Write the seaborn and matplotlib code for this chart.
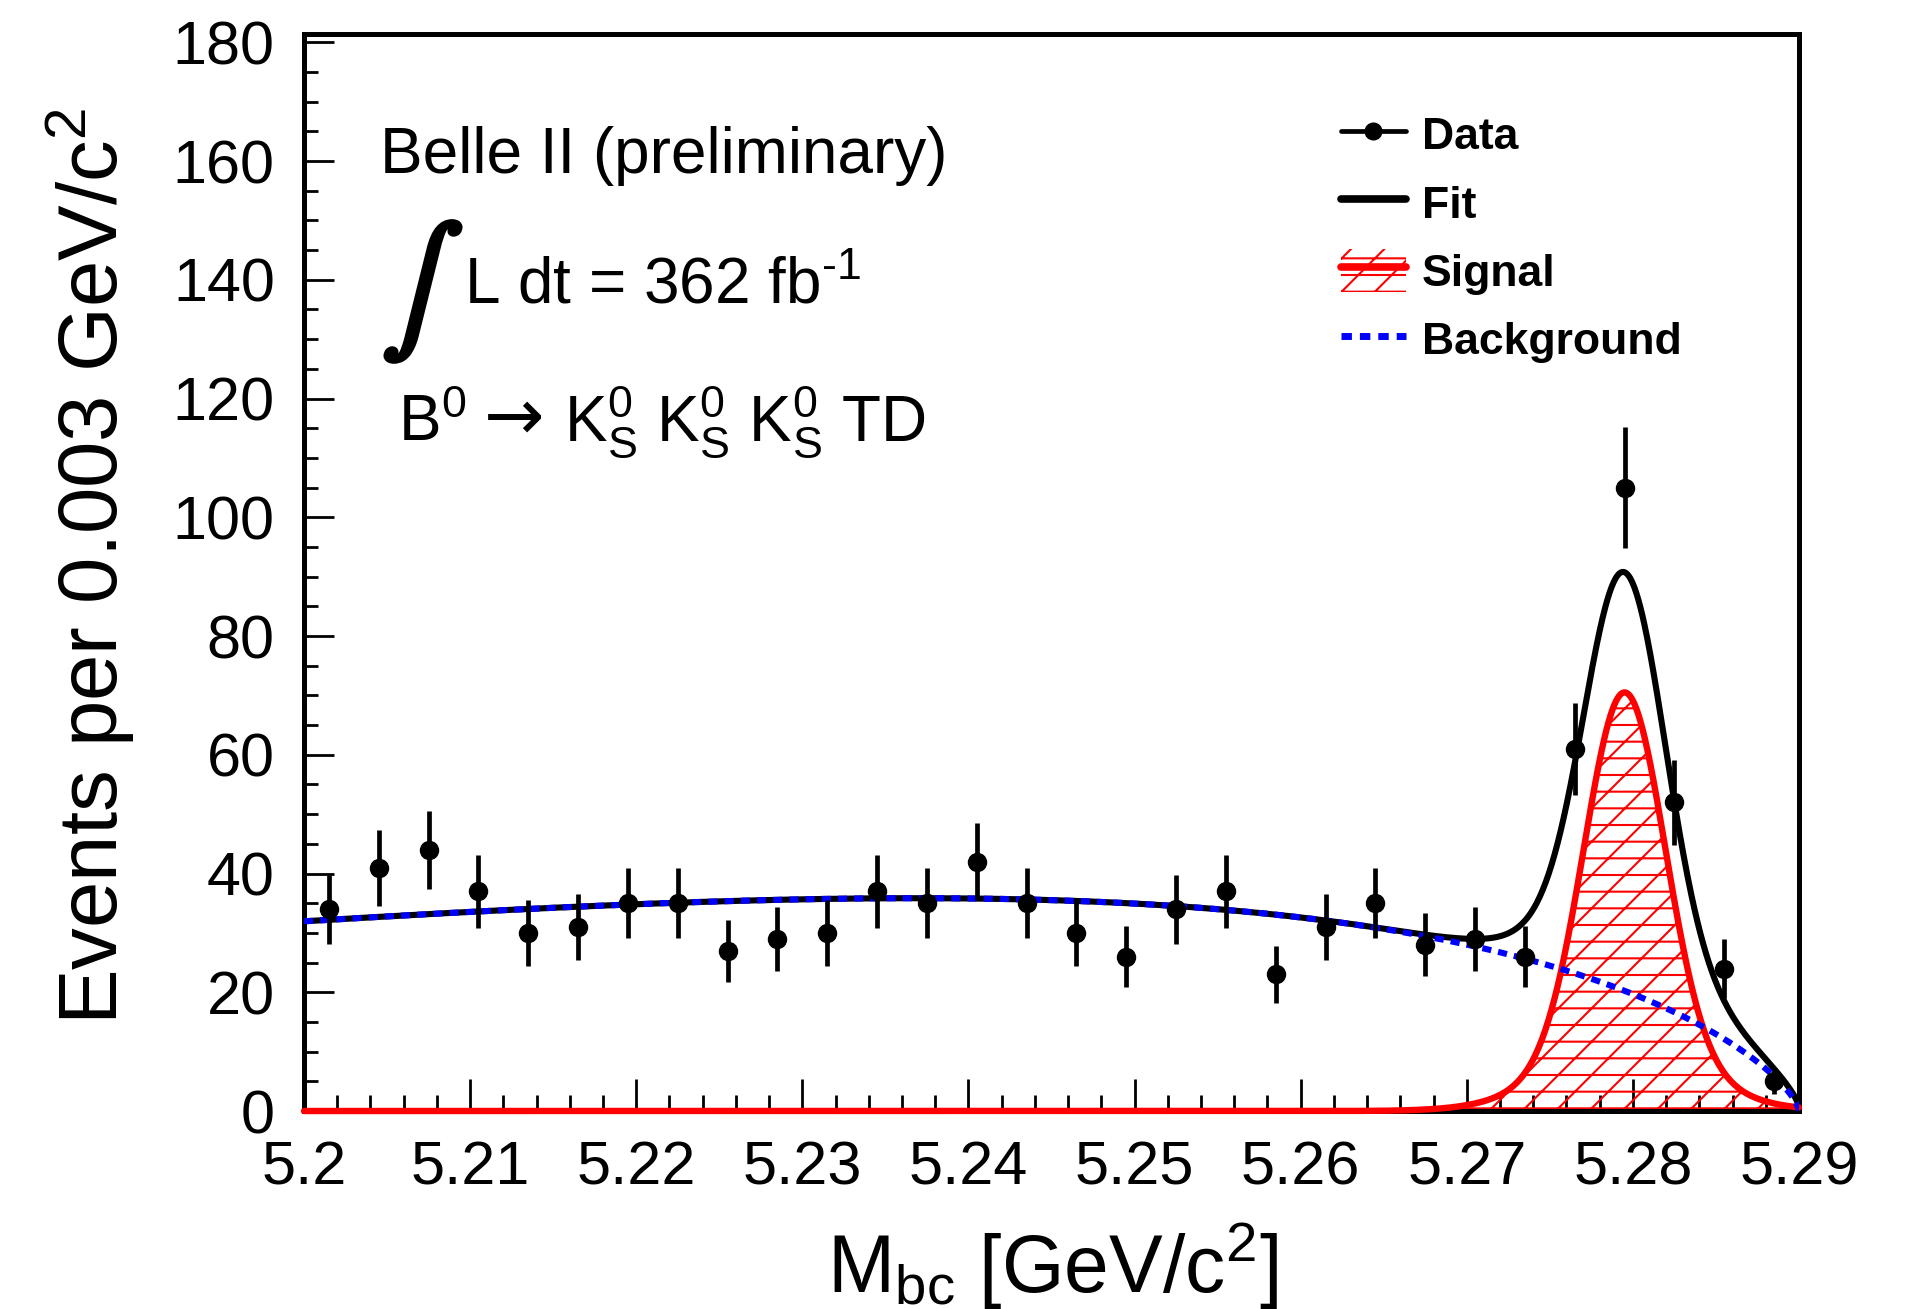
import numpy as np
import matplotlib
matplotlib.use("Agg")
import matplotlib.pyplot as plt
import matplotlib.patheffects as pe
import seaborn as sns
from matplotlib.lines import Line2D
from matplotlib.patches import Patch
from matplotlib.legend_handler import HandlerTuple
from matplotlib.ticker import MultipleLocator

# ---------------- data ----------------
bin_centers = [5.2015, 5.2045, 5.2075, 5.2105, 5.2135, 5.2165, 5.2195, 5.2225,
               5.2255, 5.2285, 5.2315, 5.2345, 5.2375, 5.2405, 5.2435, 5.2465,
               5.2495, 5.2525, 5.2555, 5.2585, 5.2615, 5.2645, 5.2675, 5.2705,
               5.2735, 5.2765, 5.2795, 5.2825, 5.2855, 5.2885]
counts = [34, 41, 44, 37, 30, 31, 35, 35, 27, 29, 30, 37, 35, 42, 35, 30,
          26, 34, 37, 23, 31, 35, 28, 29, 26, 61, 105, 52, 24, 5]
errors = [5.8, 6.4, 6.6, 6.1, 5.5, 5.6, 5.9, 5.9, 5.2, 5.4, 5.5, 6.1, 5.9, 6.5,
          5.9, 5.5, 5.1, 5.8, 6.1, 4.8, 5.6, 5.9, 5.3, 5.4, 5.1, 7.8, 10.2, 7.2,
          4.9, 2.2]

x_ticks = [5.20, 5.21, 5.22, 5.23, 5.24, 5.25, 5.26, 5.27, 5.28, 5.29]
x_tick_labels = ["5.2", "5.21", "5.22", "5.23", "5.24", "5.25", "5.26",
                 "5.27", "5.28", "5.29"]
y_ticks = [0, 20, 40, 60, 80, 100, 120, 140, 160, 180]
legend_labels = ["Data", "Fit", "Signal", "Background"]

# fit model parameters (background: ARGUS-like, signal: double Gaussian)
m0 = 5.29
bkg_norm = 211.0
bkg_power = 0.7
bkg_slope = -34.5
sig_mean = 5.2795
sig_core_amp = 61.5
sig_core_width = 0.0024
sig_tail_amp = 9.0
sig_tail_width = 0.0045

# ---------------- curves from the model ----------------
xg = np.linspace(5.2, 5.29, 1500)
u = np.clip(1.0 - (xg / m0) ** 2, 0.0, None)
bkg = bkg_norm * xg * u ** bkg_power * np.exp(bkg_slope * u)
sig = (sig_core_amp * np.exp(-0.5 * ((xg - sig_mean) / sig_core_width) ** 2)
       + sig_tail_amp * np.exp(-0.5 * ((xg - sig_mean) / sig_tail_width) ** 2))
fit = bkg + sig

# ---------------- style ----------------
sns.set_theme(style="ticks")
plt.rcParams.update({
    "font.family": ["Liberation Sans", "DejaVu Sans"],
    "mathtext.fontset": "custom",
    "mathtext.rm": "Liberation Sans",
    "mathtext.it": "Liberation Sans:italic",
    "mathtext.bf": "Liberation Sans:bold",
    "mathtext.sf": "Liberation Sans",
    "hatch.linewidth": 1.5,
    "hatch.color": "red",
    "axes.linewidth": 3.6,
    "axes.edgecolor": "black",
    "text.color": "black",
    "axes.labelcolor": "black",
    "xtick.color": "black",
    "ytick.color": "black",
})

W, H = 1921, 1309
fig = plt.figure(figsize=(W / 100, H / 100), dpi=100)
ax = fig.add_axes([304 / W, 1 - 1111 / H, (1799 - 304) / W, (1111 - 34) / H])

# signal hatched area
ax.fill_between(xg, 0, sig, facecolor="none", edgecolor="red", hatch="/-",
                linewidth=0, zorder=2)
sns.lineplot(x=xg, y=sig, ax=ax, color="red", lw=4.6, zorder=3.0,
             clip_on=False, legend=False)
sns.lineplot(x=xg, y=fit, ax=ax, color="black", lw=4.4, zorder=3.1,
             legend=False)
sns.lineplot(x=xg, y=bkg, ax=ax, color="#0000ff", lw=4.4, zorder=3.2,
             legend=False)
ax.lines[-1].set_linestyle((0, (1.5, 1.15)))
ax.lines[-1].set_dash_capstyle("butt")

ax.errorbar(bin_centers, counts, yerr=errors, fmt="o", color="black", ms=13,
            elinewidth=3.4, capsize=0, zorder=5)

ax.set_xlim(5.2, 5.29)
ax.set_ylim(0, 181.4)
ax.set_xticks(x_ticks)
ax.set_xticklabels(x_tick_labels)
ax.set_yticks(y_ticks)
ax.xaxis.set_minor_locator(MultipleLocator(0.002))
ax.yaxis.set_minor_locator(MultipleLocator(5))
ax.tick_params(which="both", direction="in", top=False, right=False,
               labelsize=44, pad=21, color="black", labelcolor="black")
ax.tick_params(axis="x", which="major", length=23, width=2)
ax.tick_params(axis="x", which="minor", length=11.5, width=2)
ax.tick_params(axis="y", which="major", length=21.5, width=2)
ax.tick_params(axis="y", which="minor", length=10, width=2)
for s in ax.spines.values():
    s.set_linewidth(3.6)
    s.set_color("black")
    s.set_zorder(2.5)

# axis labels
ax.set_xlabel(r"M$_{\mathrm{bc}}$ [GeV/c$^{2}$]", fontsize=58, color="black")
ax.xaxis.set_label_coords(1052 / W, 1 - 1292 / H, transform=fig.transFigure)
ax.xaxis.label.set_va("baseline")
ax.set_ylabel(r"Events per 0.003 GeV/c$^{2}$", fontsize=60, color="black")
ax.yaxis.set_label_coords(118 / W, 1 - 566 / H, transform=fig.transFigure)
ax.yaxis.label.set_va("baseline")

# annotations
fig.text(380 / W, 1 - 173 / H, "Belle II (preliminary)", fontsize=46,
         ha="left", va="baseline", color="black")
fig.text(382 / W, 1 - 323 / H, r"$\int$", fontsize=88, math_fontfamily="stix",
         ha="left", va="baseline", color="black",
         path_effects=[pe.withStroke(linewidth=3.5, foreground="black")])
fig.text(464 / W, 1 - 304 / H, r"L dt = 362 fb$^{\text{-1}}$", fontsize=46,
         ha="left", va="baseline", color="black")
fig.text(398 / W, 1 - 441 / H, r"B$^{0}$", fontsize=46, ha="left",
         va="baseline", color="black")
fig.text(484 / W, 1 - 440 / H, "→", fontsize=52, family="DejaVu Sans",
         ha="left", va="baseline", color="black")
fig.text(564 / W, 1 - 441 / H,
         r"K$_{\mathrm{S}}^{0}$ K$_{\mathrm{S}}^{0}$ K$_{\mathrm{S}}^{0}$ TD",
         fontsize=46, ha="left", va="baseline", color="black")

# legend
data_h = Line2D([], [], color="black", marker="o", ms=12, lw=3.4)
fit_h = Line2D([], [], color="black", lw=5.5)
sig_patch = Patch(facecolor="none", edgecolor="red", hatch="/-", lw=0)
sig_line = Line2D([], [], color="red", lw=5.5)
bkg_h = Line2D([], [], color="#0000ff", lw=5, linestyle=(0, (1.5, 1.15)))
ax.legend([data_h, fit_h, (sig_patch, sig_line), bkg_h], legend_labels,
          handler_map={tuple: HandlerTuple(ndivide=1, pad=0)},
          loc="upper left", bbox_to_anchor=(1341 / W, 1 - 113 / H),
          bbox_transform=fig.transFigure, frameon=False,
          prop={"weight": "bold", "size": 32}, handlelength=1.46,
          handleheight=1.1, handletextpad=0.36, labelspacing=0.51,
          borderpad=0, borderaxespad=0, numpoints=1, labelcolor="black")

fig.savefig("out.png", dpi=100)
